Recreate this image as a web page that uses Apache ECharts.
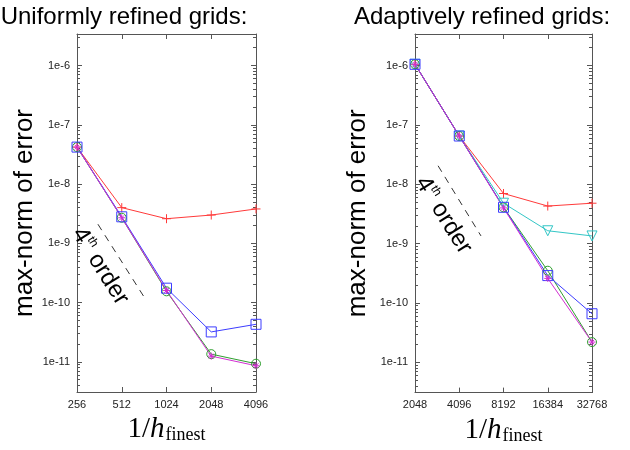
<!DOCTYPE html>
<html lang="en">
<head>
  <meta charset="UTF-8">
  <title>Error convergence</title>
  <script src="https://cdn.jsdelivr.net/npm/echarts@6/dist/echarts.min.js"></script>
  <style>
    html, body { margin: 0; padding: 0; background: #fff; }
  </style>
</head>
<body>
  <div id="app" style="width: 630px; height: 450px;"></div>
  <script>
    // uniformly refined grids
    var xUniform = [256, 512, 1024, 2048, 4096]
    var uRed = [4.2e-8, 4.0e-9, 2.6e-9, 3.0e-9, 3.8e-9]
    var uGreen = [4.2e-8, 2.7e-9, 1.55e-10, 1.35e-11, 9.3e-12]
    var uBlue = [4.2e-8, 2.8e-9, 1.75e-10, 3.2e-11, 4.3e-11]
    var uMagenta = [4.2e-8, 2.7e-9, 1.6e-10, 1.25e-11, 8.6e-12]
    var uGuideX = [354, 724]
    var uGuideY = [2.1e-9, 1.24e-10]
    var uNote = [367, 4.1e-10]

    // adaptively refined grids
    var xAdaptive = [2048, 4096, 8192, 16384, 32768]
    var aRed = [1.05e-6, 6.5e-8, 7.0e-9, 4.3e-9, 4.8e-9]
    var aGreen = [1.05e-6, 6.5e-8, 4.1e-9, 3.5e-10, 2.2e-11]
    var aBlue = [1.05e-6, 6.5e-8, 4.1e-9, 2.9e-10, 6.6e-11]
    var aMagenta = [1.05e-6, 6.5e-8, 4.0e-9, 2.6e-10, 2.2e-11]
    var aCyan = [1.05e-6, 6.5e-8, 4.8e-9, 1.65e-9, 1.35e-9]
    var aGuideX = [2940, 5758]
    var aGuideY = [2.05e-8, 1.35e-9]
    var aNote = [3200, 3.0e-9]

    var yMin = 3.1e-12
    var yMax = 3.4e-6

    var colors = {
      red: '#ff3a3a',
      green: '#2f9f2f',
      blue: '#3c3cff',
      magenta: '#d22ed2',
      cyan: '#33c6c6'
    }
    var plusPath = 'path://M5,0V10M0,5H10'
    var starPath = 'path://M5,0V10M0,5H10M1.5,1.5L8.5,8.5M8.5,1.5L1.5,8.5'

    function zip(xs, ys) {
      var out = []
      for (var i = 0; i < xs.length; i++) out.push([xs[i], ys[i]])
      return out
    }

    var axisColor = '#555'
    var labelFont = { fontFamily: 'Liberation Sans', fontSize: 11, color: '#222' }

    function xAx(gi, xs, top) {
      return {
        type: 'log', logBase: 2, gridIndex: gi,
        min: xs[0], max: xs[xs.length - 1],
        position: top ? 'top' : 'bottom',
        axisLine: { lineStyle: { color: axisColor } },
        axisTick: { inside: true, length: 5, lineStyle: { color: axisColor } },
        axisLabel: Object.assign({
          show: !top, margin: 7,
          formatter: function (v) { return String(Math.round(v)) }
        }, labelFont),
        splitLine: { show: false },
        name: top ? '' : '{a|1/}{h|h}{s|finest}',
        nameLocation: 'middle',
        nameGap: 22,
        nameTextStyle: {
          verticalAlign: 'top',
          rich: {
            a: { fontFamily: 'Liberation Serif', fontSize: 29, color: '#000' },
            h: { fontFamily: 'Liberation Serif', fontStyle: 'italic', fontSize: 29, color: '#000' },
            s: { fontFamily: 'Liberation Serif', fontSize: 18, color: '#000', padding: [12, 0, 0, 1] }
          }
        }
      }
    }

    function yAx(gi, right, gap) {
      return {
        type: 'log', gridIndex: gi,
        min: yMin, max: yMax,
        position: right ? 'right' : 'left',
        axisLine: { show: true, lineStyle: { color: axisColor } },
        axisTick: { show: true, inside: true, length: 5, lineStyle: { color: axisColor } },
        minorTick: { show: true, splitNumber: 9, length: 3, lineStyle: { color: axisColor } },
        axisLabel: Object.assign({
          show: !right, margin: 7,
          formatter: function (v) {
            var e = Math.log10(v)
            if (Math.abs(e - Math.round(e)) > 1e-6) return ''
            return '1e' + Math.round(e)
          }
        }, labelFont),
        splitLine: { show: false },
        name: right ? '' : 'max-norm of error',
        nameLocation: 'middle',
        nameGap: gap,
        nameTextStyle: { fontFamily: 'Liberation Sans', fontSize: 26, color: '#000' }
      }
    }

    function line(name, xs, ys, color, symbol, size, gi, rotate) {
      return {
        name: name, type: 'line',
        xAxisIndex: gi * 2, yAxisIndex: gi * 2,
        data: zip(xs, ys),
        symbol: symbol, symbolSize: size, symbolRotate: rotate || 0,
        showSymbol: true,
        lineStyle: { color: color, width: 1 },
        itemStyle: { color: 'none', borderColor: color, borderWidth: 1 },
        emphasis: { disabled: true },
        animation: false,
        z: 3
      }
    }

    function guide(xs, ys, gi) {
      return {
        type: 'line', xAxisIndex: gi * 2, yAxisIndex: gi * 2,
        data: zip(xs, ys), symbol: 'none',
        lineStyle: { color: '#333', width: 1, type: [7, 6] },
        animation: false, z: 2
      }
    }

    function note(pt, gi) {
      return {
        type: 'scatter', xAxisIndex: gi * 2, yAxisIndex: gi * 2,
        data: [pt], symbolSize: 0,
        itemStyle: { color: '#000', opacity: 1 },
        label: {
          show: true, position: 'inside', rotate: -58,
          color: '#000', textBorderWidth: 0, opacity: 1,
          formatter: '{n|4}{s|th}{n| order}',
          rich: {
            n: { fontFamily: 'Liberation Sans', fontSize: 24, color: '#000', textBorderWidth: 0 },
            s: { fontFamily: 'Liberation Sans', fontSize: 12, color: '#000', textBorderWidth: 0, padding: [0, 0, 13, 0] }
          }
        },
        animation: false, z: 4
      }
    }

    var app = document.querySelector('#app')
    var mCharts = echarts.init(app)

    var option = {
      backgroundColor: '#fff',
      title: [
        { text: 'Uniformly refined grids:', left: 119, top: 0, textAlign: 'center',
          textStyle: { fontFamily: 'Liberation Sans', fontSize: 24, fontWeight: 'normal', color: '#000' } },
        { text: 'Adaptively refined grids:', left: 477, top: 0, textAlign: 'center',
          textStyle: { fontFamily: 'Liberation Sans', fontSize: 24, fontWeight: 'normal', color: '#000' } }
      ],
      grid: [
        { left: 77, right: 374, top: 34, bottom: 58 },
        { left: 415, right: 38, top: 34, bottom: 56 }
      ],
      xAxis: [
        xAx(0, xUniform, false), xAx(0, xUniform, true),
        xAx(1, xAdaptive, false), xAx(1, xAdaptive, true)
      ],
      yAxis: [
        yAx(0, false, 38), yAx(0, true, 0),
        yAx(1, false, 44), yAx(1, true, 0)
      ],
      series: [
        guide(uGuideX, uGuideY, 0),
        note(uNote, 0),
        line('red', xUniform, uRed, colors.red, plusPath, 9, 0),
        line('green', xUniform, uGreen, colors.green, 'circle', 9, 0),
        line('blue', xUniform, uBlue, colors.blue, 'rect', 10, 0),
        line('magenta', xUniform, uMagenta, colors.magenta, starPath, 7, 0),

        guide(aGuideX, aGuideY, 1),
        note(aNote, 1),
        line('red', xAdaptive, aRed, colors.red, plusPath, 9, 1),
        line('cyan', xAdaptive, aCyan, colors.cyan, 'triangle', 10, 1, 180),
        line('green', xAdaptive, aGreen, colors.green, 'circle', 9, 1),
        line('blue', xAdaptive, aBlue, colors.blue, 'rect', 10, 1),
        line('magenta', xAdaptive, aMagenta, colors.magenta, starPath, 7, 1)
      ]
    }
    mCharts.setOption(option)
  </script>
</body>
</html>
